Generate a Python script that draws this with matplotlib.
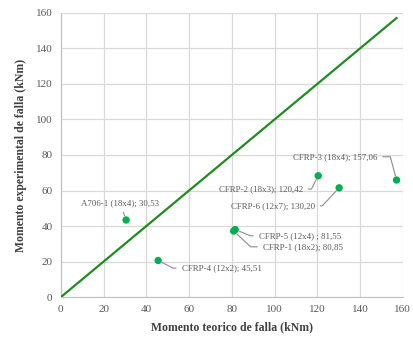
import matplotlib
matplotlib.use("Agg")
import matplotlib.pyplot as plt

# Data
names = ["A706-1 (18x4); 30,53", "CFRP-4 (12x2); 45,51", "CFRP-5 (12x4) ; 81,55",
         "CFRP-1 (18x2); 80,85", "CFRP-2 (18x3); 120,42", "CFRP-6 (12x7); 130,20",
         "CFRP-3 (18x4); 157,06"]
m_teo = [30.53, 45.51, 81.55, 80.85, 120.42, 130.20, 157.06]
m_exp = [43.4, 20.6, 38.0, 37.2, 68.3, 61.5, 65.9]
ref_line = [0, 157.06]

# label placement (data coords), alignment and leader-line style
lab_x = [27.6, 56.5, 92.6, 94.5, 113.2, 118.8, 148.0]
lab_y = [53.0, 16.3, 34.5, 28.3, 60.8, 51.4, 79.0]
lab_ha = ["center", "left", "left", "left", "right", "right", "right"]
lab_conn = ["arc3",
            "angle,angleA=0,angleB=-27,rad=0",
            "angle,angleA=0,angleB=-22,rad=0",
            "angle,angleA=0,angleB=-43,rad=0",
            "angle,angleA=0,angleB=63,rad=0",
            "angle,angleA=0,angleB=47,rad=0",
            "angle,angleA=0,angleB=105,rad=0"]

serif = ["Liberation Serif", "DejaVu Serif"]
gray = "#595959"

fig = plt.figure(figsize=(4.14, 3.38), dpi=100)
ax = fig.add_axes([0.147, 0.121, 0.826, 0.841])

ax.plot(ref_line, ref_line, color="#1e8c1e", lw=1.6, zorder=3)
ax.scatter(m_teo, m_exp, s=28, color="#00b050", zorder=4, edgecolors="none")

for n, x, y, tx, ty, ha, cs in zip(names, m_teo, m_exp, lab_x, lab_y, lab_ha, lab_conn):
    ax.annotate(n, xy=(x, y), xytext=(tx, ty), ha=ha, va="center",
                fontsize=6.4, color=gray, family=serif,
                arrowprops=dict(arrowstyle="-", color="#8c8c8c", lw=0.8,
                                shrinkA=2, shrinkB=3, connectionstyle=cs),
                zorder=5)

ax.set_xlim(0, 160)
ax.set_ylim(0, 160)
ax.set_xticks(range(0, 161, 20))
ax.set_yticks(range(0, 161, 20))
ax.grid(True, color="#d9d9d9", lw=0.9)
ax.set_axisbelow(True)
for s in ["top", "right"]:
    ax.spines[s].set_visible(False)
for s in ["left", "bottom"]:
    ax.spines[s].set_color("#bfbfbf")
ax.tick_params(length=0, colors=gray, labelsize=8, pad=6)
for lbl in ax.get_xticklabels() + ax.get_yticklabels():
    lbl.set_family(serif)

ax.set_xlabel("Momento teorico de falla (kNm)", fontsize=8.5, fontweight="bold",
              color="#404040", family=serif, labelpad=5)
ax.set_ylabel("Momento experimental de falla (kNm)", fontsize=8.5, fontweight="bold",
              color="#404040", family=serif, labelpad=6)

fig.savefig("out.png", dpi=100)
